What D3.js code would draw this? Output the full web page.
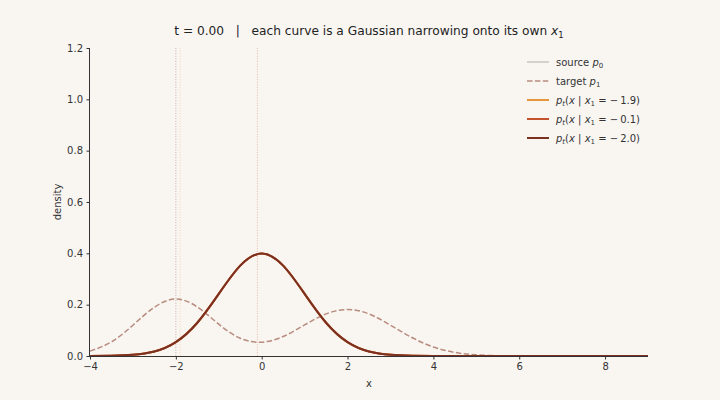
<!DOCTYPE html>
<html>
<head>
<meta charset="utf-8">
<script src="https://cdn.jsdelivr.net/npm/d3@7"></script>
<style>
  body { margin: 0; background: #f9f6f2; }
  svg { font-family: "DejaVu Sans", sans-serif; }
  .tick text { font-size: 10px; fill: #333; }
  .tick line, .domain { stroke: #333; }
</style>
</head>
<body>
<svg width="720" height="400"></svg>
<script>
const xGrid = [-4, -3.5, -3, -2.5, -2, -1.5, -1, -0.5, 0, 0.5, 1, 1.5, 2, 2.5,
               3, 3.5, 4, 4.5, 5, 5.5, 6, 6.5, 7, 7.5, 8, 8.5, 9];
const sourceDensity = [0.0001, 0.0009, 0.0044, 0.0175, 0.054, 0.1295, 0.242, 0.352, 0.399,
                       0.352, 0.242, 0.1295, 0.054, 0.0175, 0.0044, 0.0009, 0.0001, 0,
                       0, 0, 0, 0, 0, 0, 0, 0, 0];
const targetDensity = [0.019, 0.055, 0.12, 0.19, 0.222, 0.191, 0.124, 0.069, 0.054,
                       0.076, 0.121, 0.164, 0.181, 0.164, 0.12, 0.072, 0.035, 0.014,
                       0.0044, 0.0012, 0.0003, 0, 0, 0, 0, 0, 0];
// at t = 0 every conditional path still equals the source
const endPoints = [-1.9, -0.1, -2.0];
const endColors = ['#e8963c', '#c4532d', '#7b3121'];
const condDensity = [sourceDensity, sourceDensity, sourceDensity];

const xTicks = [-4, -2, 0, 2, 4, 6, 8];
const yTicks = [0, 0.2, 0.4, 0.6, 0.8, 1.0, 1.2];

let svg = d3.select('svg');
let margin = {left: 90, right: 72, top: 48, bottom: 44};
let width = 720 - margin.left - margin.right;
let height = 400 - margin.top - margin.bottom;

let x = d3.scaleLinear().domain([-4, 9]).range([0, width]);
let y = d3.scaleLinear().domain([0, 1.2]).range([height, 0]);

let g = svg.append('g').attr('transform', `translate(${margin.left},${margin.top})`);

// dotted markers at each x1
g.selectAll('line.marker')
  .data(endPoints)
  .join('line')
  .attr('class', 'marker')
  .attr('x1', d => x(d)).attr('x2', d => x(d))
  .attr('y1', 0).attr('y2', height)
  .style('stroke', (d, i) => endColors[i])
  .style('stroke-opacity', 0.45)
  .style('stroke-width', 0.8)
  .style('stroke-dasharray', '1,1.6');

let line = d3.line()
  .x((d, i) => x(xGrid[i]))
  .y(d => y(d))
  .curve(d3.curveNatural);

g.append('path')
  .attr('d', line(sourceDensity))
  .style('fill', 'none')
  .style('stroke', '#bdb8b2')
  .style('stroke-width', 1.2);

g.append('path')
  .attr('d', line(targetDensity))
  .style('fill', 'none')
  .style('stroke', '#b88c7e')
  .style('stroke-width', 1.5)
  .style('stroke-dasharray', '5.5,2.4');

g.selectAll('path.cond')
  .data(condDensity)
  .join('path')
  .attr('class', 'cond')
  .attr('d', d => line(d))
  .style('fill', 'none')
  .style('stroke', (d, i) => endColors[i])
  .style('stroke-width', 2);

// axes: only left and bottom spines
g.append('g')
  .attr('transform', `translate(0,${height})`)
  .call(d3.axisBottom(x).tickValues(xTicks).tickSize(3.5).tickPadding(3.5).tickFormat(d3.format('d')))
  .call(a => a.select('.domain').attr('d', `M0,0.5H${width}`));

g.append('g')
  .call(d3.axisLeft(y).tickValues(yTicks).tickSize(3.5).tickPadding(3.5).tickFormat(d3.format('.1f')))
  .call(a => a.select('.domain').attr('d', `M-0.5,${height}V0`));

svg.selectAll('.tick text').style('font-family', '"DejaVu Sans", sans-serif');

g.append('text')
  .attr('x', width / 2).attr('y', height + 31)
  .attr('text-anchor', 'middle')
  .style('font-size', '10px').style('fill', '#333')
  .text('x');

g.append('text')
  .attr('transform', `translate(-29,${height / 2}) rotate(-90)`)
  .attr('text-anchor', 'middle')
  .style('font-size', '10px').style('fill', '#333')
  .text('density');

// title
let title = svg.append('text')
  .attr('x', margin.left + width / 2).attr('y', 35)
  .attr('text-anchor', 'middle')
  .style('font-size', '12.2px').style('fill', '#222');
title.append('tspan').text('t = 0.00   |   each curve is a Gaussian narrowing onto its own ')
  .attr('xml:space', 'preserve').style('white-space', 'pre');
title.append('tspan').text('x').style('font-style', 'italic');
title.append('tspan').text('1').attr('dy', 3).style('font-size', '8.5px');

// legend
let legendItems = [
  {label: 'source', sub: '0', color: '#bdb8b2', width: 1.2, dash: null},
  {label: 'target', sub: '1', color: '#b88c7e', width: 1.5, dash: '5.5,2.4'}
];
endPoints.forEach(function(v, i) {
  legendItems.push({cond: v, color: endColors[i], width: 2, dash: null});
});

let legend = svg.append('g').attr('transform', 'translate(527,62)');
let rows = legend.selectAll('g')
  .data(legendItems)
  .join('g')
  .attr('transform', (d, i) => `translate(0,${i * 19})`);

rows.append('line')
  .attr('x1', 0).attr('x2', 22)
  .style('stroke', d => d.color)
  .style('stroke-width', d => d.width)
  .style('stroke-dasharray', d => d.dash);

rows.each(function(d) {
  let t = d3.select(this).append('text')
    .attr('x', 29).attr('y', 3.5)
    .style('font-size', '10px').style('fill', '#333');
  if (d.cond === undefined) {
    t.append('tspan').text(d.label + ' ');
    t.append('tspan').text('p').style('font-style', 'italic');
    t.append('tspan').text(d.sub).attr('dy', 2).style('font-size', '7px');
  } else {
    t.append('tspan').text('p').style('font-style', 'italic');
    t.append('tspan').text('t').attr('dy', 2).style('font-size', '7px').style('font-style', 'italic');
    t.append('tspan').text('(').attr('dy', -2);
    t.append('tspan').text('x').style('font-style', 'italic');
    t.append('tspan').text(' | ');
    t.append('tspan').text('x').style('font-style', 'italic');
    t.append('tspan').text('1').attr('dy', 2).style('font-size', '7px');
    t.append('tspan').text(' = \u2212\u2009' + d3.format('.1f')(Math.abs(d.cond)) + ')').attr('dy', -2)
      .attr('xml:space', 'preserve');
  }
});
</script>
</body>
</html>
